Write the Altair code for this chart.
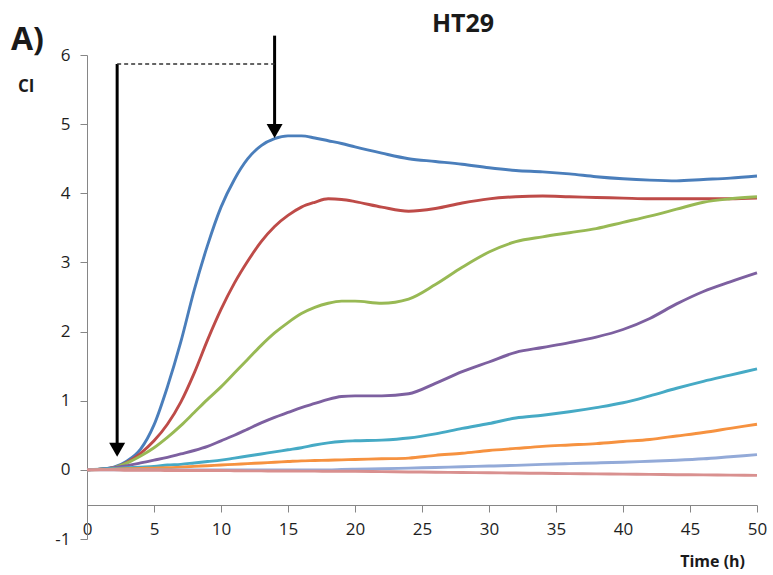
import altair as alt
import pandas as pd

# Time points (h) shared by all curves
HOURS = list(range(0, 21)) + list(range(22, 51, 2))

# Cell index (CI) per seeding density
CI_S1 = [0.0, 0.01, 0.04, 0.13, 0.3, 0.65, 1.2, 1.85, 2.6, 3.25, 3.8, 4.2, 4.5, 4.69, 4.79, 4.83,
         4.83, 4.8, 4.76, 4.72, 4.67,
         4.58, 4.5, 4.46, 4.42, 4.37, 4.33, 4.31, 4.28, 4.24, 4.21, 4.19, 4.18, 4.2, 4.22, 4.25]
CI_S2 = [0.0, 0.01, 0.03, 0.11, 0.24, 0.42, 0.66, 0.98, 1.4, 1.88, 2.32, 2.7, 3.02, 3.3, 3.52, 3.68,
         3.8, 3.87, 3.92, 3.91, 3.88,
         3.8, 3.74, 3.78, 3.86, 3.92, 3.95, 3.96, 3.95, 3.94, 3.93, 3.92, 3.92, 3.92, 3.92, 3.93]
CI_S3 = [0.0, 0.01, 0.03, 0.1, 0.2, 0.32, 0.47, 0.64, 0.83, 1.02, 1.2, 1.4, 1.6, 1.8, 1.98, 2.13,
         2.26, 2.35, 2.41, 2.44, 2.44,
         2.41, 2.47, 2.68, 2.93, 3.15, 3.3, 3.37, 3.43, 3.49, 3.58, 3.67, 3.77, 3.87, 3.92, 3.95]
CI_S4 = [0.0, 0.01, 0.03, 0.06, 0.1, 0.14, 0.18, 0.23, 0.28, 0.34, 0.42, 0.5, 0.59, 0.68, 0.76, 0.83,
         0.9, 0.96, 1.02, 1.06, 1.07,
         1.07, 1.1, 1.25, 1.42, 1.56, 1.7, 1.77, 1.84, 1.92, 2.03, 2.19, 2.4, 2.58, 2.72, 2.85]
CI_S5 = [0.0, 0.01, 0.02, 0.03, 0.04, 0.05, 0.07, 0.08, 0.1, 0.12, 0.14, 0.17, 0.2, 0.23, 0.26, 0.29,
         0.32, 0.36, 0.39, 0.41, 0.42,
         0.43, 0.46, 0.52, 0.6, 0.67, 0.75, 0.79, 0.84, 0.9, 0.97, 1.07, 1.18, 1.28, 1.37, 1.46]
CI_S6 = [0.0, 0.005, 0.01, 0.015, 0.02, 0.025, 0.03, 0.04, 0.05, 0.06, 0.07, 0.08, 0.09, 0.1, 0.11, 0.12,
         0.13, 0.135, 0.14, 0.145, 0.15,
         0.16, 0.17, 0.21, 0.24, 0.28, 0.31, 0.34, 0.36, 0.38, 0.41, 0.44, 0.49, 0.54, 0.6, 0.66]
CI_S7 = [0.0, 0.0, 0.0, 0.0, 0.0, 0.0, 0.0, 0.0, 0.0, 0.0, 0.0, 0.0, 0.0, 0.0, 0.0, 0.0,
         0.0, 0.0, 0.0, 0.005, 0.01,
         0.015, 0.025, 0.035, 0.045, 0.055, 0.065, 0.08, 0.09, 0.1, 0.11, 0.125, 0.14, 0.16, 0.19, 0.22]
CI_S8 = [0.0, 0.0, 0.0, -0.005, -0.005, -0.005, -0.01, -0.01, -0.01, -0.01, -0.01, -0.012, -0.014, -0.015,
         -0.016, -0.017, -0.018, -0.019, -0.02, -0.02, -0.02,
         -0.025, -0.03, -0.034, -0.038, -0.042, -0.046, -0.05, -0.054, -0.058, -0.062, -0.066, -0.07,
         -0.073, -0.076, -0.08]

SERIES = [
    ("S1", CI_S1, "#4a7ebb"),
    ("S2", CI_S2, "#be4b48"),
    ("S3", CI_S3, "#98b954"),
    ("S4", CI_S4, "#7d60a0"),
    ("S5", CI_S5, "#46aac5"),
    ("S6", CI_S6, "#f69240"),
    ("S7", CI_S7, "#93aad8"),
    ("S8", CI_S8, "#d9908f"),
]

# Annotation arrows (hours, CI)
ARROW_X = [2.25, 14.0]
ARROW_TOP = [5.87, 6.28]
ARROW_TIP = [0.19, 4.80]
DASH_Y = 5.87

FONT = "Open Sans"
AXIS_GREY = "#868686"

x_scale = alt.Scale(domain=[0, 50], nice=False, zero=False)
y_scale = alt.Scale(domain=[-1, 6], nice=False, zero=False)

x_axis = alt.Axis(values=list(range(0, 51, 5)), offset=-34, tickSize=7, labelFontSize=17,
                  labelFont=FONT, labelColor="#1e1e1e", labelPadding=9, domainColor=AXIS_GREY,
                  tickColor=AXIS_GREY, grid=False, title=None, labelFlush=False)
y_axis = alt.Axis(values=list(range(-1, 7)), tickSize=7, labelFontSize=17, labelFont=FONT,
                  labelColor="#1e1e1e", labelPadding=10, domainColor=AXIS_GREY,
                  tickColor=AXIS_GREY, grid=False, title=None,
                  labelExpr="'' + datum.value")

X = alt.X("hours:Q", scale=x_scale, axis=x_axis)
Y = alt.Y("ci:Q", scale=y_scale, axis=y_axis)

layers = []
for name, values, colour in SERIES:
    df = pd.DataFrame({"hours": HOURS, "ci": values})
    layers.append(
        alt.Chart(df).mark_line(color=colour, strokeWidth=2.9, interpolate="monotone").encode(x=X, y=Y)
    )

# Vertical arrow shafts
shafts = pd.DataFrame({"hours": ARROW_X, "ci": ARROW_TOP, "ci2": [t + 0.2 for t in ARROW_TIP]})
layers.append(alt.Chart(shafts).mark_rule(color="black", strokeWidth=3).encode(x=X, y=Y, y2="ci2:Q"))

# Arrowheads, tip sitting at the target value
heads = pd.DataFrame({"hours": ARROW_X, "ci": ARROW_TIP})
layers.append(
    alt.Chart(heads).mark_point(shape="M-1,-1.75L1,-1.75L0,0Z", filled=True, color="black",
                                opacity=1, size=256, strokeWidth=0).encode(x=X, y=Y)
)

# Dashed connector between the two arrows
dash = pd.DataFrame({"hours": [ARROW_X[0]], "hours2": [ARROW_X[1]], "ci": [DASH_Y]})
layers.append(
    alt.Chart(dash).mark_rule(color="#333333", strokeWidth=1.3, strokeDash=[4, 3]).encode(
        x=X, x2="hours2:Q", y=Y)
)

def label(text, x, y, size, align="left", weight="bold"):
    return alt.Chart(alt.Data(values=[{}])).mark_text(
        text=text, font=FONT, fontSize=size, fontWeight=weight, color="#1a1a1a",
        align=align, baseline="alphabetic"
    ).encode(x=alt.value(x), y=alt.value(y))

layers.append(label("HT29", 376, -23, 25, align="center"))
layers.append(label("A)", -76, -5, 32))
layers.append(label("CI", -69, 37, 17))
layers.append(label("Time (h)", 658, 512, 16, align="right"))

chart = alt.layer(*layers).properties(
    width=670, height=484,
    padding={"left": 87, "top": 55, "right": 16, "bottom": 36},
    autosize=alt.AutoSizeParams(type="none"),
    background="white",
).configure_view(stroke=None)

chart.save("out.html", embed_options={"renderer": "svg", "actions": False})
